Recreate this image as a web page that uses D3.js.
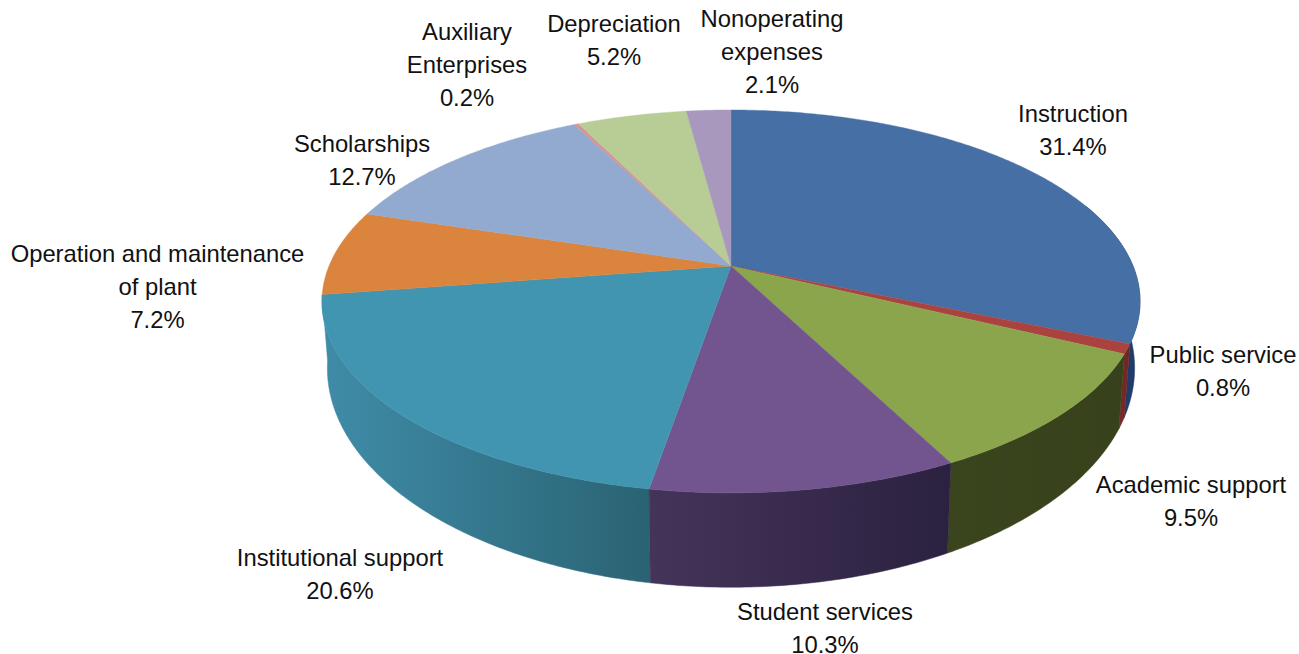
<!DOCTYPE html>
<html>
<head>
<meta charset="utf-8">
<script src="https://cdn.jsdelivr.net/npm/d3@7"></script>
<style>
  body { margin: 0; background: #fff; }
  text { font-family: "Liberation Sans", Arial, sans-serif; font-size: 23.8px; fill: #111; }
</style>
</head>
<body>
<div id="pie"></div>
<script>
// Chart data, clockwise from 12 o'clock
var categories = ["Instruction", "Public service", "Academic support", "Student services",
  "Institutional support", "Operation and maintenance of plant", "Scholarships",
  "Auxiliary Enterprises", "Depreciation", "Nonoperating expenses"];
var values = [31.4, 0.8, 9.5, 10.3, 20.6, 7.2, 12.7, 0.2, 5.2, 2.1];

// Label line breaks as in the original
var labelLines = [["Instruction"], ["Public service"], ["Academic support"], ["Student services"],
  ["Institutional support"], ["Operation and maintenance", "of plant"], ["Scholarships"],
  ["Auxiliary", "Enterprises"], ["Depreciation"], ["Nonoperating", "expenses"]];
// Centre x and first baseline of each label
var labelX = [1073, 1223, 1191, 825, 340, 157.5, 362, 467, 614, 772];
var labelY = [122, 363, 493, 620, 566, 262, 152, 40, 32, 27];
var lineGap = 32.8;

var topColors = ["#4670a5", "#aa4340", "#8aa54c", "#72558f", "#4295b1", "#db843d", "#92a9d0", "#d39694", "#b8cc95", "#a898bd"];
// only the first five slices show a side wall
var sideLeft = ["#1f3c6b", "#7a2b28", "#3a451e", "#45345a", "#3f8ca8"];
var sideRight = ["#1f3c6b", "#6e2623", "#37411b", "#2b2140", "#2a6373"];

var svgWidth = 1299;
var svgHeight = 654;

var svg = d3.select("#pie")
  .append("svg")
  .attr("width", svgWidth)
  .attr("height", svgHeight)
  .style("display", "block");

var defs = svg.append("defs");

var pie = d3.pie().sort(null).value(function(d) { return d; });
var arcs = pie(values);

// the 3D renderer pushes the front slices round a little, so warp the angle (degrees)
var warp = d3.scaleLinear()
  .domain([0, 116, 150, 187, 261, 360])
  .range([0, 116, 152.7, 189.4, 261, 360]);

// perspective projection of the pie's unit circle
var cx = 731, cy = 266;
var a = 402, b = 184.9, p = 0.185;
var bottomB = 203, bottomD = 63, bottomW = 0.013;

function project(angle, bottom) {
  var t = warp(angle * 180 / Math.PI) * Math.PI / 180;
  var u = Math.sin(t), v = -Math.cos(t);
  var w = 1 - p * v + (bottom ? bottomW : 0);
  return bottom
    ? [cx + a * u / w, cy + (bottomB * v + bottomD) / w]
    : [cx + a * u / w, cy + b * v / w];
}

function samples(start, end) {
  var n = Math.max(2, Math.ceil((end - start) / 0.01));
  return d3.range(n + 1).map(function(i) { return start + (end - start) * i / n; });
}

var line = d3.line();

// side wall, only the part that faces the viewer
var sideStart = 70 * Math.PI / 180;

var sides = arcs.slice(0, sideLeft.length)
  .map(function(d, i) {
    return { i: i, start: Math.max(d.startAngle, sideStart), end: d.endAngle };
  })
  .filter(function(d) { return d.end > d.start; });

// paint the outer ones first
sides.sort(function(a1, a2) {
  return Math.abs((a2.start + a2.end) / 2 - Math.PI) - Math.abs((a1.start + a1.end) / 2 - Math.PI);
});

sides.forEach(function(d) {
  var angles = samples(d.start, d.end);
  var topPts = angles.map(function(t) { return project(t, false); });
  var botPts = angles.map(function(t) { return project(t, true); }).reverse();
  var pts = topPts.concat(botPts);
  var xRange = d3.extent(pts, function(q) { return q[0]; });
  var id = "side" + d.i;

  var grad = defs.append("linearGradient")
    .attr("id", id)
    .attr("gradientUnits", "userSpaceOnUse")
    .attr("x1", xRange[0]).attr("x2", xRange[1])
    .attr("y1", 0).attr("y2", 0);
  grad.append("stop").attr("offset", 0).attr("stop-color", sideLeft[d.i]);
  grad.append("stop").attr("offset", 1).attr("stop-color", sideRight[d.i]);

  svg.append("path")
    .attr("d", line(pts) + "Z")
    .attr("fill", "url(#" + id + ")")
    .attr("stroke", "url(#" + id + ")")
    .attr("stroke-width", 0.5);
});

// top face
svg.append("g").selectAll("path")
  .data(arcs)
  .enter()
  .append("path")
  .attr("d", function(d) {
    var pts = samples(d.startAngle, d.endAngle).map(function(t) { return project(t, false); });
    return line([[cx, cy]].concat(pts)) + "Z";
  })
  .attr("fill", function(d, i) { return topColors[i]; })
  .attr("stroke", function(d, i) { return topColors[i]; })
  .attr("stroke-width", 0.4);

// labels
var labels = svg.append("g").selectAll("text")
  .data(categories)
  .enter()
  .append("text")
  .attr("text-anchor", "middle")
  .attr("y", function(d, i) { return labelY[i]; });

labels.each(function(d, i) {
  var node = d3.select(this);
  labelLines[i].concat([values[i].toFixed(1) + "%"]).forEach(function(str, j) {
    node.append("tspan")
      .attr("x", labelX[i])
      .attr("y", labelY[i] + j * lineGap)
      .text(str);
  });
});
</script>
</body>
</html>
